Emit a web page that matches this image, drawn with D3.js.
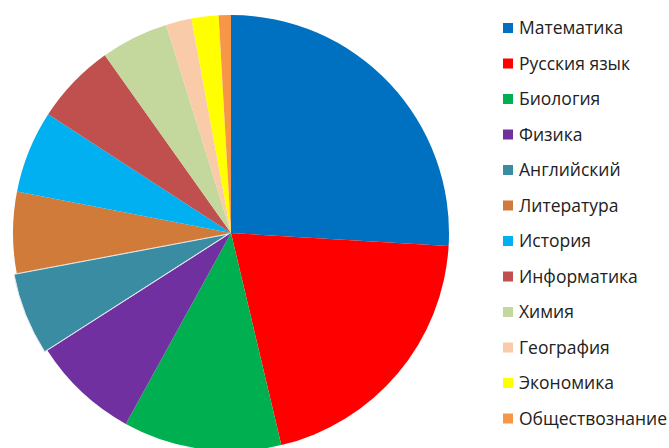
<!DOCTYPE html>
<html><head><meta charset="utf-8">
<script src="https://cdn.jsdelivr.net/npm/d3@7"></script>
<style>html,body{margin:0;padding:0;background:#fff;}svg{display:block;}</style>
</head><body>
<svg id="chart" width="669" height="448"></svg>
<script>
const categories = ["Математика","Русския язык","Биология","Физика","Английский","Литература","История","Информатика","Химия","География","Экономика","Обществознание"];
const values = [25.9, 20.3, 11.7, 7.9, 6.1, 6.0, 6.1, 6.0, 5.0, 1.9, 2.0, 0.9];
const colors = ["#0070C0","#FF0000","#00B050","#7030A0","#3A8CA3","#D07B3A","#00B0F0","#C0504D","#C4D79D","#F9CBA8","#FFFF00","#F79646"];
const explodeIndex = 4;

const svg = d3.select("#chart");
const cx = 231, cy = 233, R = 218;
const pie = d3.pie().sort(null).value(d => d.v);
const data = categories.map((c,i)=>({c, v: values[i], col: colors[i], i}));
const arcs = pie(data);
const arc = d3.arc().innerRadius(0).outerRadius(R);
const g = svg.append("g").attr("transform", `translate(${cx},${cy})`);
g.selectAll("path").data(arcs).join("path")
  .attr("d", arc)
  .attr("fill", d => d.data.col)
  .attr("stroke", d => d.data.i === explodeIndex ? "#e8e8f0" : "none")
  .attr("stroke-width", 1)
  .attr("transform", d => {
    if (d.data.i !== explodeIndex) return null;
    const a = (d.startAngle + d.endAngle)/2;
    const off = 3;
    return `translate(${off*Math.sin(a)},${-off*Math.cos(a)})`;
  });

const lg = svg.append("g");
const y0 = 28, step = 35.5;
const items = lg.selectAll("g").data(data).join("g")
  .attr("transform", (d,i)=>`translate(503,${y0 + i*step})`);
items.append("rect").attr("x",0).attr("y",-5).attr("width",10).attr("height",10).attr("fill", d=>d.col);
items.append("text").attr("x",16).attr("y",0).attr("dy","0.36em")
  .attr("font-family","'Open Sans', sans-serif").attr("font-size",17.5).attr("fill","#222")
  .text(d=>d.c);
</script>
</body></html>
